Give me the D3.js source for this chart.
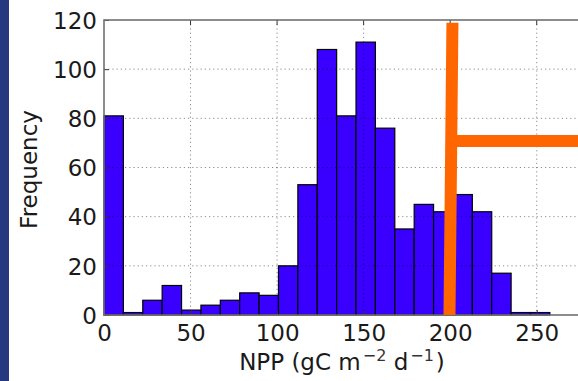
<!DOCTYPE html>
<html>
<head>
<meta charset="utf-8">
<script src="https://cdn.jsdelivr.net/npm/d3@7"></script>
<style>
  html, body { margin: 0; padding: 0; background: #ffffff; }
  svg { display: block; }
  text { font-family: "DejaVu Sans", sans-serif; fill: #1a1a1a; }
</style>
</head>
<body>
<svg id="chart" width="578" height="381"></svg>
<script>
// ---- data ----
const binStart = 0;
const binWidth = 11.2;
const counts = [81, 1, 6, 12, 2, 4, 6, 9, 8, 20, 53, 108, 81, 111, 76, 35, 45, 42, 49, 42, 17, 1, 1];
const xTicks = [0, 50, 100, 150, 200, 250];
const yTicks = [0, 20, 40, 60, 80, 100, 120];
const xDomain = [0, 275];
const yDomain = [0, 120];
// annotation (orange marker) in data units
const markerVertical = [[199.6, 0], [201.3, 118.9]];
const markerHorizontal = [[201.3, 70.8], [290, 70.8]];

const bins = counts.map((c, i) => ({ x0: binStart + i * binWidth, x1: binStart + (i + 1) * binWidth, count: c }));

// ---- layout ----
const svg = d3.select("#chart");
const W = 578, H = 381;
const plot = { left: 104, top: 20, right: 580, bottom: 315 };

const x = d3.scaleLinear().domain(xDomain).range([plot.left, plot.right]);
const y = d3.scaleLinear().domain(yDomain).range([plot.bottom, plot.top]);

// left dark strip
svg.append("rect").attr("x", 0).attr("y", 0).attr("width", 9).attr("height", H).attr("fill", "#24397f");

// bars
svg.append("g").selectAll("rect").data(bins).join("rect")
  .attr("x", d => x(d.x0))
  .attr("y", d => y(d.count))
  .attr("width", d => x(d.x1) - x(d.x0))
  .attr("height", d => y(0) - y(d.count))
  .attr("fill", "#3a00ff")
  .attr("stroke", "#000")
  .attr("stroke-width", 1.2);

// grid (drawn over bars, like matplotlib classic)
const grid = svg.append("g").attr("stroke", "#000").attr("stroke-opacity", 0.45)
  .attr("stroke-width", 1).attr("stroke-dasharray", "1.2,3");
grid.selectAll("line.gx").data(xTicks.filter(t => t > xDomain[0] && t < xDomain[1])).join("line")
  .attr("x1", d => x(d)).attr("x2", d => x(d)).attr("y1", plot.top).attr("y2", plot.bottom);
grid.selectAll("line.gy").data(yTicks.filter(t => t > yDomain[0] && t < yDomain[1])).join("line")
  .attr("x1", plot.left).attr("x2", plot.right).attr("y1", d => y(d)).attr("y2", d => y(d));

// axes via d3 axis (inward ticks, labels custom-styled)
const fontSize = 23;
const xAxis = d3.axisBottom(x).tickValues(xTicks).tickSize(-5).tickPadding(9).tickFormat(d3.format("d"));
const gx = svg.append("g").attr("transform", `translate(0,${plot.bottom})`).call(xAxis);
gx.select(".domain").remove();
gx.selectAll(".tick line").attr("stroke", "#333").attr("stroke-width", 1);
gx.selectAll(".tick text").attr("font-size", fontSize).attr("font-family", "DejaVu Sans").attr("fill", "#1a1a1a")
  .attr("dy", "0.72em");

const yAxis = d3.axisLeft(y).tickValues(yTicks).tickSize(-5).tickPadding(7).tickFormat(d3.format("d"));
const gy = svg.append("g").attr("transform", `translate(${plot.left},0)`).call(yAxis);
gy.select(".domain").remove();
gy.selectAll(".tick line").attr("stroke", "#333").attr("stroke-width", 1);
gy.selectAll(".tick text").attr("font-size", fontSize).attr("font-family", "DejaVu Sans").attr("fill", "#1a1a1a")
  .attr("dy", "0.36em");

// top ticks
svg.append("g").selectAll("line").data(xTicks.filter(t => t > 0)).join("line")
  .attr("x1", d => x(d)).attr("x2", d => x(d)).attr("y1", plot.top).attr("y2", plot.top + 5)
  .attr("stroke", "#333").attr("stroke-width", 1);

// frame
svg.append("rect").attr("x", plot.left).attr("y", plot.top)
  .attr("width", plot.right - plot.left).attr("height", plot.bottom - plot.top)
  .attr("fill", "none").attr("stroke", "#707070").attr("stroke-width", 1.6);

// orange annotation marker
const line = d3.line().x(d => x(d[0])).y(d => y(d[1]));
svg.append("path").attr("d", line(markerVertical)).attr("stroke", "#ff6600").attr("stroke-width", 12).attr("fill", "none");
svg.append("path").attr("d", line(markerHorizontal)).attr("stroke", "#ff6600").attr("stroke-width", 12).attr("fill", "none");

// axis labels
const xl = svg.append("text").attr("x", (plot.left + plot.right) / 2).attr("y", 369.5)
  .attr("text-anchor", "middle").attr("font-size", fontSize);
xl.append("tspan").text("NPP (gC m");
xl.append("tspan").attr("font-size", 16).attr("dx", 2).attr("dy", -9).attr("fill", "#333").text("\u22122");
xl.append("tspan").attr("font-size", fontSize).attr("dy", 9).text(" d");
xl.append("tspan").attr("font-size", 16).attr("dx", 2).attr("dy", -9).attr("fill", "#333").text("\u22121");
xl.append("tspan").attr("font-size", fontSize).attr("dx", 2).attr("dy", 9).text(")");

svg.append("text").attr("transform", `translate(37,${(plot.top + plot.bottom) / 2 + 2}) rotate(-90)`)
  .attr("text-anchor", "middle").attr("font-size", fontSize).text("Frequency");
</script>
</body>
</html>
